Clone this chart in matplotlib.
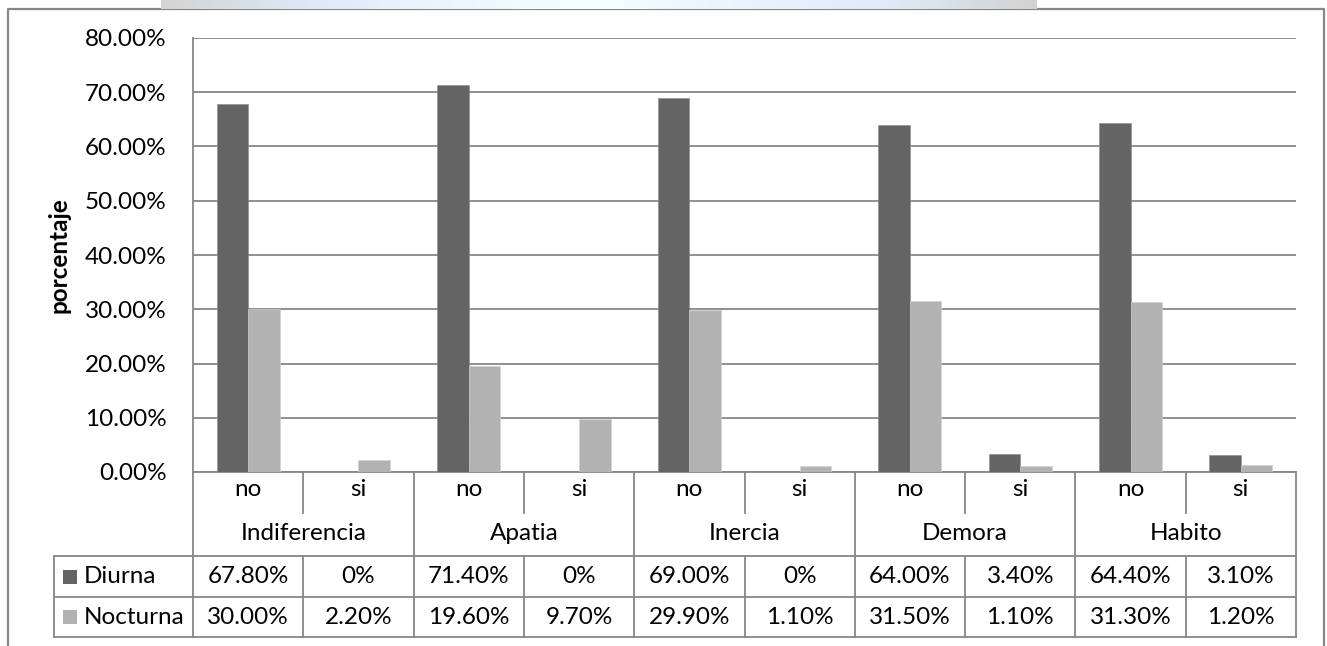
import matplotlib
matplotlib.use("Agg")
import matplotlib.pyplot as plt
from matplotlib.transforms import blended_transform_factory
from matplotlib.patches import Rectangle
from matplotlib.colors import LinearSegmentedColormap
import numpy as np

# ---- data ----
groups = ["Indiferencia", "Apatia", "Inercia", "Demora", "Habito"]
answers = ["no", "si"]
diurna = [67.8, 0.0, 71.4, 0.0, 69.0, 0.0, 64.0, 3.4, 64.4, 3.1]
nocturna = [30.0, 2.2, 19.6, 9.7, 29.9, 1.1, 31.5, 1.1, 31.3, 1.2]
series_names = ["Diurna", "Nocturna"]
yticks = [0, 10, 20, 30, 40, 50, 60, 70, 80]

# ---- style ----
FONT = "Lato"
FS = 17.5
DARK = "#646464"
LIGHT = "#b2b2b2"
LINE = "#878787"

W, H = 1327, 646
fig = plt.figure(figsize=(W / 100, H / 100), dpi=100)
fig.patch.set_facecolor("white")

# soft banner strip at the very top
banner = fig.add_axes([161 / W, 1 - 9 / H, (1037 - 161) / W, 9 / H])
cmap = LinearSegmentedColormap.from_list(
    "banner", ["#d4d4d4", "#dde9f7", "#ebf8ff", "#f4ffff", "#e8f4ff", "#e0ebf8", "#d2d2d2"])
banner.imshow(np.linspace(0, 1, 256)[None, :], aspect="auto", cmap=cmap)
banner.axis("off")

# outer chart frame
frame_ax = fig.add_axes([0, 0, 1, 1], zorder=-1)
frame_ax.set_xlim(0, W)
frame_ax.set_ylim(H, 0)
frame_ax.axis("off")
frame_ax.plot([8, 8, 1324, 1324], [H + 5, 9, 9, H + 5], color=LINE, lw=1.6)

# plot area
L, R, T, B = 193, 1296, 38, 472
ax = fig.add_axes([L / W, (H - B) / H, (R - L) / W, (B - T) / H])
n = len(diurna)
x = np.arange(n) + 0.5
slot = (R - L) / n
bw = 31.5 / slot
ax.bar(x - bw / 2, diurna, width=bw, color=DARK, edgecolor="#8a8a8a", linewidth=0.4, zorder=3)
ax.bar(x + bw / 2, nocturna, width=bw, color=LIGHT, edgecolor="#d0d0d0", linewidth=0.4, zorder=3)
ax.set_xlim(0, n)
ax.set_ylim(0, 80)
ax.set_yticks(yticks)
ax.set_yticklabels([f"{v:.2f}%" for v in yticks], fontsize=FS, family=FONT)
ax.tick_params(axis="y", length=0, pad=19)
ax.set_xticks([])
ax.grid(axis="y", color=LINE, lw=1.3, zorder=0)
for s in ["top", "right"]:
    ax.spines[s].set_visible(False)
for s in ["left", "bottom"]:
    ax.spines[s].set_color(LINE)
    ax.spines[s].set_linewidth(1.3)
ax.set_ylabel("porcentaje", fontsize=FS, family=FONT, fontweight="bold", labelpad=10)

# category axis + data table beneath the plot
tr = blended_transform_factory(ax.transData, ax.transAxes)


def ty(p):
    return (B - p) / (B - T)


def xp(px):
    return (px - L) / slot


kw = dict(color=LINE, lw=1.3, transform=tr, clip_on=False)
row_top, row_mid, row_bot = 556, 597, 637
legend_left = xp(54)

for g in range(len(groups) + 1):
    ax.plot([2 * g, 2 * g], [ty(B), ty(row_bot)], **kw)
for g in range(len(groups)):
    xm = 2 * g + 1
    ax.plot([xm, xm], [ty(B), ty(513)], **kw)
    ax.plot([xm, xm], [ty(row_top), ty(row_bot)], **kw)
for yy in (row_top, row_mid, row_bot):
    ax.plot([legend_left, n], [ty(yy), ty(yy)], **kw)
ax.plot([legend_left, legend_left], [ty(row_top), ty(row_bot)], **kw)

tkw = dict(fontsize=FS, family=FONT, ha="center", va="center", transform=tr, clip_on=False)
for i in range(n):
    ax.text(x[i], ty(490), answers[i % 2], **tkw)
for g, name in enumerate(groups):
    ax.text(2 * g + 1, ty(533), name, **tkw)


def fmt(v):
    return f"{v:.2f}%" if v else "0%"


rows_y = [(row_top + row_mid) / 2, (row_mid + row_bot) / 2]
for vals, yy in zip([diurna, nocturna], rows_y):
    for i, v in enumerate(vals):
        ax.text(x[i], ty(yy), fmt(v), **tkw)

for name, col, yy in zip(series_names, [DARK, LIGHT], rows_y):
    ax.add_patch(Rectangle((xp(63), ty(yy + 7)), 14 / slot, 14 / (B - T),
                           transform=tr, clip_on=False, facecolor=col, edgecolor="none"))
    ax.text(xp(84), ty(yy), name, fontsize=FS, family=FONT, ha="left", va="center",
            transform=tr, clip_on=False)

fig.savefig("out.png", dpi=100, facecolor="white")
